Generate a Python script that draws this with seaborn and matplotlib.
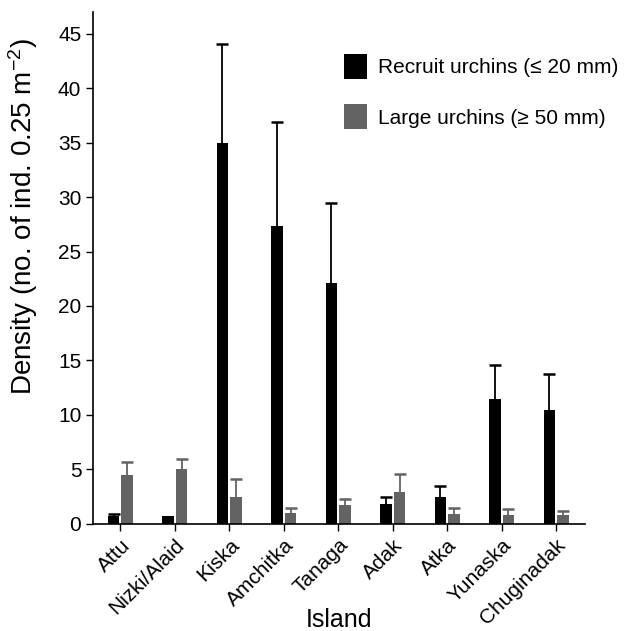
import matplotlib
matplotlib.use("Agg")
import matplotlib.pyplot as plt
import seaborn as sns
import pandas as pd
import numpy as np
from matplotlib.patches import Patch

islands = ["Attu", "Nizki/Alaid", "Kiska", "Amchitka", "Tanaga", "Adak", "Atka", "Yunaska", "Chuginadak"]
recruit_mean = [0.67, 0.73, 35.0, 27.3, 22.1, 1.81, 2.5, 11.5, 10.4]
recruit_upper = [0.87, 0.73, 44.1, 36.9, 29.45, 2.45, 3.48, 14.55, 13.75]
large_mean = [4.47, 5.02, 2.42, 0.98, 1.74, 2.88, 0.85, 0.83, 0.77]
large_upper = [5.63, 5.9, 4.07, 1.44, 2.27, 4.53, 1.44, 1.31, 1.14]
series = ["Recruit urchins (\u2264 20 mm)", "Large urchins (\u2265 50 mm)"]
colors = ["#000000", "#636363"]

sns.set_theme(style="ticks")
plt.rcParams["font.family"] = ["Liberation Sans", "DejaVu Sans"]
plt.rcParams["mathtext.fontset"] = "custom"
plt.rcParams["mathtext.rm"] = "Liberation Sans"
plt.rcParams["mathtext.default"] = "regular"

df = pd.DataFrame({
    "Island": islands * 2,
    "Density": recruit_mean + large_mean,
    "Series": [series[0]] * len(islands) + [series[1]] * len(islands),
})

fig = plt.figure(figsize=(6.25, 6.31), dpi=100)
ax = fig.add_axes([0.149, 0.170, 0.787, 0.811])

sns.barplot(data=df, x="Island", y="Density", hue="Series", order=islands,
            hue_order=series, palette=colors, width=0.5, gap=0.15,
            errorbar=None, saturation=1, linewidth=0, ax=ax, legend=False, zorder=2)

n = len(islands)
rec_patches = sorted([p for p in ax.patches if p.get_facecolor()[0] < 0.1][:n], key=lambda p: p.get_x())
lg_patches = sorted([p for p in ax.patches if p.get_facecolor()[0] >= 0.1][:n], key=lambda p: p.get_x())

for pats, means, uppers, col in [(rec_patches, recruit_mean, recruit_upper, colors[0]),
                                  (lg_patches, large_mean, large_upper, colors[1])]:
    xs = np.array([p.get_x() + p.get_width() / 2 for p in pats])
    means = np.array(means)
    uppers = np.array(uppers)
    show = uppers > means
    ax.vlines(xs[show], means[show], uppers[show], colors=col, linewidth=1.3, zorder=1)
    ax.plot(xs[show], uppers[show], ls="none", marker="_", markersize=9,
            markeredgewidth=1.8, color=col, zorder=1)

ax.set_xlim(-0.5, 8.53)
ax.set_ylim(0, 47)
ax.set_yticks(range(0, 46, 5))
ax.tick_params(axis="y", labelsize=15, length=5, width=1, colors="black", labelcolor="black")
ax.tick_params(axis="x", labelsize=15, length=5, width=1, colors="black", labelcolor="black")
for lab in ax.get_xticklabels():
    lab.set_rotation(45)
    lab.set_ha("right")
    lab.set_rotation_mode("anchor")

ax.set_xlabel("Island", fontsize=18, color="black")
ax.xaxis.set_label_coords(0.5, -0.165)
ax.set_ylabel("Density (no. of ind. 0.25 m$^{\u22122}$)", fontsize=20, color="black")
ax.yaxis.set_label_coords(-0.108, 0.6)
sns.despine(ax=ax)
for s in ["left", "bottom"]:
    ax.spines[s].set_linewidth(1.2)
    ax.spines[s].set_color("black")

handles = [Patch(facecolor=c, edgecolor="none") for c in colors]
leg = ax.legend(handles, series, loc="upper right", bbox_to_anchor=(1.105, 0.955),
                frameon=False, fontsize=15, handlelength=1.1, handleheight=1.45,
                labelspacing=1.24, handletextpad=0.5)
for t in leg.get_texts():
    t.set_color("black")

fig.savefig("out.png", dpi=100)
